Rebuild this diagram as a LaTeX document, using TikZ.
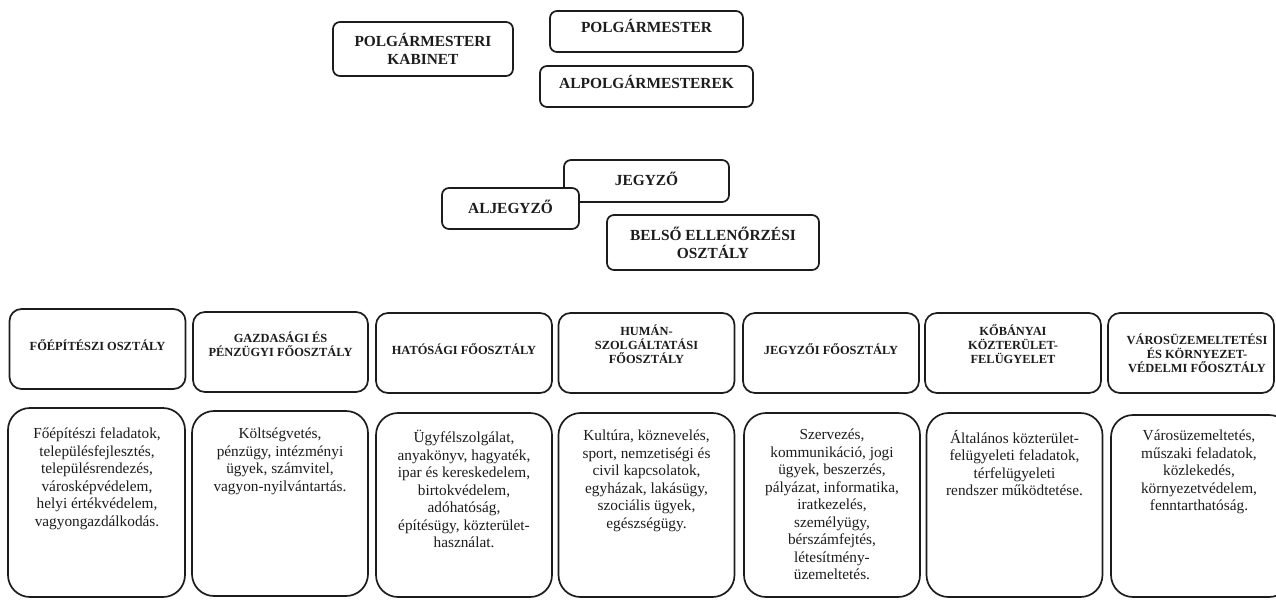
\documentclass[tikz,border=0pt]{standalone}
\usepackage{fontspec}
\setmainfont{Liberation Serif}
\usetikzlibrary{positioning}
\definecolor{ink}{HTML}{1C1C1C}
\tikzset{
	box/.style={draw=ink, line width=1.7pt, fill=white, rounded corners=7pt, inner sep=0pt},
	chief/.style={box, font=\fontsize{15.4}{18}\selectfont\bfseries, align=center, text=ink},
	head/.style={box, rounded corners=12pt, minimum width=176pt, minimum height=80pt},
	duty/.style={box, rounded corners=22pt, minimum width=176pt, minimum height=185pt},
	headtext/.style={font=\fontsize{12.4}{13.8}\selectfont\bfseries, align=center, text=ink, inner sep=0pt},
	dutytext/.style={font=\fontsize{15.3}{17.5}\selectfont, align=center, text=ink, inner sep=0pt, anchor=north},
}
\begin{document}
\begin{tikzpicture}[x=1pt,y=-1pt]
	\clip (0,0) rectangle (1276,600);
	% vezetes
	\node[chief, minimum width=180pt, minimum height=54pt] (kabinet) at (423,49) {POLGÁRMESTERI\\KABINET};
	\node[chief, minimum width=193pt, minimum height=41pt, text depth=11pt] (polg) at (646.5,31.5) {POLGÁRMESTER};
	\node[chief, minimum width=213pt, minimum height=41pt, text depth=9pt] (alpolg) at (646.5,86.5) {ALPOLGÁRMESTEREK};
	\node[chief, minimum width=165pt, minimum height=42pt, text depth=5pt] (jegyzo) at (646.5,181) {JEGYZŐ};
	\node[chief, minimum width=137pt, minimum height=41pt, text depth=4pt] (aljegyzo) at (510.5,208.5) {ALJEGYZŐ};
	\node[chief, minimum width=212pt, minimum height=55pt] (belso) at (713,242.5) {BELSŐ ELLENŐRZÉSI\\OSZTÁLY};

	% osztalyok
	\node[head] (h1) at (97.5,349) {};
	\node[head, minimum width=175pt] (h2) at (280.5,352) {};
	\node[head] (h3) at (464,353) {};
	\node[head] (h4) at (646.5,353) {};
	\node[head] (h5) at (831,353) {};
	\node[head] (h6) at (1013,353) {};
	\node[head, minimum width=166pt] (h7) at (1191,353) {};

	\node[headtext] (h1t) at (97.5,345) {FŐÉPÍTÉSZI OSZTÁLY};
	\node[headtext] (h2t) at (280.5,344) {GAZDASÁGI ÉS\\PÉNZÜGYI FŐOSZTÁLY};
	\node[headtext] (h3t) at (464,349) {HATÓSÁGI FŐOSZTÁLY};
	\node[headtext] (h4t) at (646.5,344) {HUMÁN-\\SZOLGÁLTATÁSI\\FŐOSZTÁLY};
	\node[headtext] (h5t) at (831,349) {JEGYZŐI FŐOSZTÁLY};
	\node[headtext] (h6t) at (1013,344) {KŐBÁNYAI\\KÖZTERÜLET-\\FELÜGYELET};
	\node[headtext] (h7t) at (1197,353) {VÁROSÜZEMELTETÉSI\\ÉS KÖRNYEZET-\\VÉDELMI FŐOSZTÁLY};

	% feladatok
	\node[duty, minimum width=177pt, minimum height=189pt] (d1) at (96.5,502.5) {};
	\node[duty] (d2) at (280,503.5) {};
	\node[duty, minimum height=184pt] (d3) at (464,505) {};
	\node[duty, minimum height=184pt] (d4) at (646.5,505) {};
	\node[duty, minimum height=184pt] (d5) at (832,505) {};
	\node[duty, minimum height=184pt] (d6) at (1014.5,505) {};
	\node[duty, minimum width=180pt, minimum height=182pt] (d7) at (1201,506) {};

	\node[dutytext] (d1t) at (97,428) {Főépítészi feladatok,\\településfejlesztés,\\településrendezés,\\városképvédelem,\\helyi értékvédelem,\\vagyongazdálkodás.};
	\node[dutytext] (d2t) at (280,428) {Költségvetés,\\pénzügy, intézményi\\ügyek, számvitel,\\vagyon-nyilvántartás.};
	\node[dutytext] (d3t) at (464,430) {Ügyfélszolgálat,\\anyakönyv, hagyaték,\\ipar és kereskedelem,\\birtokvédelem,\\adóhatóság,\\építésügy, közterület-\\használat.};
	\node[dutytext] (d4t) at (646.5,430) {Kultúra, köznevelés,\\sport, nemzetiségi és\\civil kapcsolatok,\\egyházak, lakásügy,\\szociális ügyek,\\egészségügy.};
	\node[dutytext] (d5t) at (832,429) {Szervezés,\\kommunikáció, jogi\\ügyek, beszerzés,\\pályázat, informatika,\\iratkezelés,\\személyügy,\\bérszámfejtés,\\létesítmény-\\üzemeltetés.};
	\node[dutytext] (d6t) at (1014.5,430) {Általános közterület-\\felügyeleti feladatok,\\térfelügyeleti\\rendszer működtetése.};
	\node[dutytext] (d7t) at (1199,430) {Városüzemeltetés,\\műszaki feladatok,\\közlekedés,\\környezetvédelem,\\fenntarthatóság.};
\end{tikzpicture}
\end{document}
